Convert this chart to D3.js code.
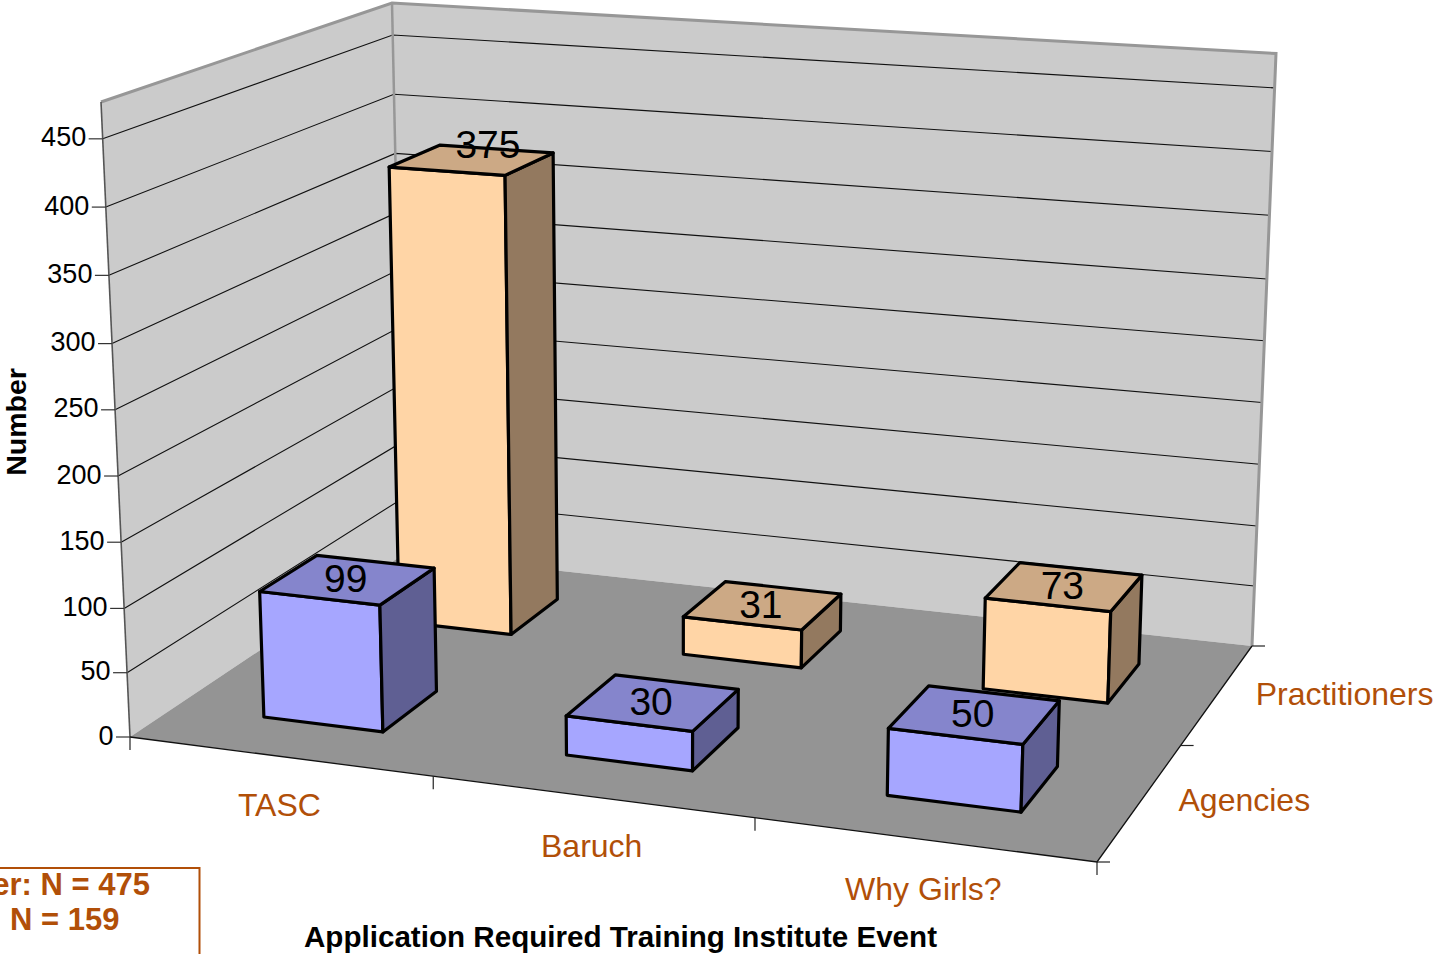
<!DOCTYPE html>
<html><head><meta charset="utf-8">
<script src="https://cdn.jsdelivr.net/npm/d3@7/dist/d3.min.js"></script>
<style>html,body{margin:0;padding:0;background:#fff;overflow:hidden}svg{display:block}text{font-family:"Liberation Sans",Arial,sans-serif}</style>
</head><body><svg id="c" width="1438" height="954"></svg>
<script>
const categories = ["TASC","Baruch","Why Girls?"];
const seriesNames = ["Agencies","Practitioners"];
const agencies = [99,30,50];
const practitioners = [375,31,73];
const valueTicks = [0,50,100,150,200,250,300,350,400,450];
const xAxisTitle = "Application Required Training Institute Event";
const yAxisTitle = "Number";
const noteLines = ["er: N = 475","N = 159"];

const W=1438,H=954;
const svg=d3.select("#c");
const BROWN="#B14F08";

// depth-corrected value scale: fraction of wall height
const zFrac=d3.scaleLinear().domain([0,100,300,450,475]).range([0,.2025,.6195,.942,1]);
const floorQuad=[[130,737],[1097,862],[1252,646],[404,554]];
const topQuad=[[101,102],[1119,171],[1276,53.5],[392,3]];
const xCat=d3.scaleBand().domain(categories).range([0,1]).paddingInner(.6).paddingOuter(.3);
const ySer=d3.scaleBand().domain(seriesNames).range([0,1]).paddingInner(.6).paddingOuter(.3);

function homography(q){
  const [[x0,y0],[x1,y1],[x2,y2],[x3,y3]]=q;
  const dx1=x1-x2,dx2=x3-x2,dx3=x0-x1+x2-x3,dy1=y1-y2,dy2=y3-y2,dy3=y0-y1+y2-y3;
  const d=dx1*dy2-dx2*dy1;
  const g=(dx3*dy2-dx2*dy3)/d,h=(dx1*dy3-dx3*dy1)/d;
  const a=x1-x0+g*x1,b=x3-x0+h*x3,c=x0,e=y1-y0+g*y1,f=y3-y0+h*y3;
  return (u,v)=>{const w=g*u+h*v+1;return[(a*u+b*v+c)/w,(e*u+f*v+y0)/w];};
}
const project=(u,v,z)=>{
  const t=zFrac(z);
  return homography(floorQuad.map((p,i)=>[p[0]+(topQuad[i][0]-p[0])*t,p[1]+(topQuad[i][1]-p[1])*t]))(u,v);
};
const zTop=475;
const line=d3.line();
const poly=(pts)=>line(pts)+"Z";

const g=svg.append("g");
// walls
const wallFill="#CBCBCB",edge="#979797";
g.append("path").attr("d",poly([project(0,0,0),project(0,1,0),project(0,1,zTop),project(0,0,zTop)])).attr("fill",wallFill);
g.append("path").attr("d",poly([project(0,1,0),project(1,1,0),project(1,1,zTop),project(0,1,zTop)])).attr("fill",wallFill);
g.append("path").attr("d",poly(floorQuad)).attr("fill","#949494");
// grid
valueTicks.slice(1).forEach(v=>{
  g.append("path").attr("d",line([project(0,0,v),project(0,1,v),project(1,1,v)])).attr("fill","none").attr("stroke","#111").attr("stroke-width",1.1);
});
// edges
g.append("path").attr("d",line([project(0,0,zTop),project(0,1,zTop),project(1,1,zTop),project(1,1,0)])).attr("fill","none").attr("stroke",edge).attr("stroke-width",3).attr("stroke-linejoin","miter");
g.append("path").attr("d",line([project(0,1,zTop),project(0,1,0)])).attr("fill","none").attr("stroke",edge).attr("stroke-width",2.5);
g.append("path").attr("d",line([project(0,0,zTop),project(0,0,0)])).attr("fill","none").attr("stroke","#555").attr("stroke-width",1.6);
g.append("path").attr("d",line([project(0,0,0),project(1,0,0),project(1,1,0)])).attr("fill","none").attr("stroke","#111").attr("stroke-width",1.3);
// value axis
valueTicks.forEach(v=>{
  const p=project(0,0,v);
  g.append("line").attr("x1",p[0]-14).attr("x2",p[0]).attr("y1",p[1]).attr("y2",p[1]).attr("stroke","#333").attr("stroke-width",1.2);
  g.append("text").attr("x",p[0]-16.5).attr("y",p[1]-1.5).attr("text-anchor","end").attr("dominant-baseline","central").attr("font-size",27).attr("fill","#000").text(v);
});
// category ticks
d3.range(categories.length+1).forEach(i=>{
  const p=project(i/categories.length,0,0);
  g.append("line").attr("x1",p[0]).attr("x2",p[0]).attr("y1",p[1]).attr("y2",p[1]+13).attr("stroke","#222").attr("stroke-width",1.2);
});
d3.range(seriesNames.length+1).forEach(i=>{
  const p=project(1,i/seriesNames.length,0);
  g.append("line").attr("x1",p[0]).attr("x2",p[0]+13).attr("y1",p[1]).attr("y2",p[1]).attr("stroke","#222").attr("stroke-width",1.2);
});
// labels of categories & series (offset from the axis midpoints)
categories.forEach((c,i)=>{
  const p=project((i+.5)/categories.length,0,0);
  g.append("text").attr("x",p[0]).attr("y",p[1]+49).attr("text-anchor","middle").attr("dominant-baseline","central").attr("font-size",32).attr("fill",BROWN).text(c);
});
seriesNames.forEach((s,i)=>{
  const p=project(1,(i+.5)/seriesNames.length,0);
  g.append("text").attr("x",p[0]+38).attr("y",p[1]-(i?0:1)).attr("dominant-baseline","central").attr("font-size",32).attr("fill",BROWN).text(s);
});
// bars
const palette={Agencies:["#A6A6FF","#8585CC","#5F5F93"],Practitioners:["#FFD5A6","#CCA985","#93795F"]};
const seriesVals={Agencies:agencies,Practitioners:practitioners};
const bars=g.append("g");
["Practitioners","Agencies"].forEach(s=>{
  seriesVals[s].forEach((v,i)=>{
    const c=categories[i],u0=xCat(c),u1=u0+xCat.bandwidth(),v0=ySer(s),v1=v0+ySer.bandwidth();
    const col=palette[s];
    const face=(pts,f)=>bars.append("path").attr("d",poly(pts)).attr("fill",f).attr("stroke","#000").attr("stroke-width",3.2).attr("stroke-linejoin","round");
    face([project(u0,v0,0),project(u1,v0,0),project(u1,v0,v),project(u0,v0,v)],col[0]);
    face([project(u1,v0,0),project(u1,v1,0),project(u1,v1,v),project(u1,v0,v)],col[2]);
    face([project(u0,v0,v),project(u1,v0,v),project(u1,v1,v),project(u0,v1,v)],col[1]);
    const p=project((u0+u1)/2,(v0+v1)/2,v);
    const lifted=(s==="Practitioners"&&i===0);   // this label sits raised off its bar in the reference
    bars.append("text").attr("x",p[0]+(lifted?16:-2)).attr("y",p[1]+(lifted?-15:-1)).attr("text-anchor","middle").attr("dominant-baseline","central").attr("font-size",39).attr("fill","#000").text(v);
  });
});
// titles
g.append("text").attr("x",620.5).attr("y",936).attr("text-anchor","middle").attr("dominant-baseline","central").attr("font-size",29.6).attr("font-weight","bold").text(xAxisTitle);
g.append("text").attr("transform","translate(16,422) rotate(-90)").attr("text-anchor","middle").attr("dominant-baseline","central").attr("font-size",28.5).attr("font-weight","bold").text(yAxisTitle);
// note box
g.append("path").attr("d",line([[-4,868],[199.5,868],[199.5,958]])).attr("fill","none").attr("stroke",BROWN).attr("stroke-width",2);
g.append("text").attr("x",150).attr("y",884).attr("text-anchor","end").attr("dominant-baseline","central").attr("font-size",31).attr("font-weight","bold").attr("fill",BROWN).text(noteLines[0]);
g.append("text").attr("x",119.5).attr("y",919).attr("text-anchor","end").attr("dominant-baseline","central").attr("font-size",31).attr("font-weight","bold").attr("fill",BROWN).text(noteLines[1]);
</script></body></html>
